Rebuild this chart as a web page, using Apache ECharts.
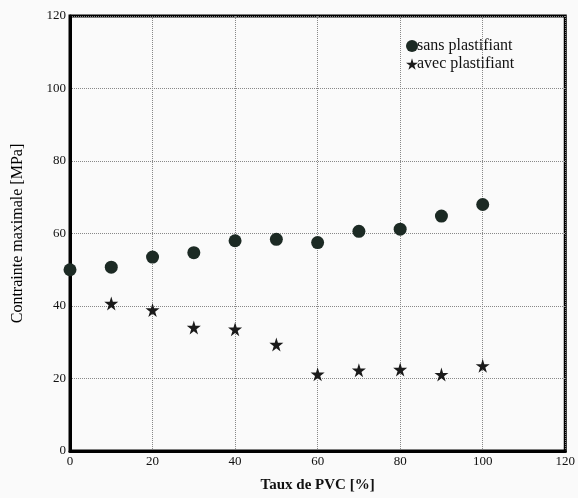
<!DOCTYPE html>
<html><head><meta charset="utf-8">
<script src="https://cdn.jsdelivr.net/npm/echarts@6/dist/echarts.min.js"></script>
<style>html,body{margin:0;padding:0;background:#fafafa}#c{width:578px;height:498px}</style>
</head><body><div id="c"></div>
<script>
const xSans = [0,10,20,30,40,50,60,70,80,90,100];
const ySans = [50,50.7,53.5,54.7,58,58.4,57.5,60.6,61.2,64.8,68];
const xAvec = [10,20,30,40,50,60,70,80,90,100];
const yAvec = [40.7,38.9,34.1,33.6,29.4,21.2,22.3,22.5,21.1,23.5];
const xTicks = [0,20,40,60,80,100,120];
const yTicks = [0,20,40,60,80,100,120];
const names = ['sans plastifiant','avec plastifiant'];

const star = 'path://M50,0 L61,35 L98,35 L68,57 L79,91 L50,70 L21,91 L32,57 L2,35 L39,35 Z';
const font = '"Liberation Serif","DejaVu Serif",serif';
const chart = echarts.init(document.getElementById('c'));
chart.setOption({
  backgroundColor:'#fafafa',
  animation:false,
  grid:{left:70,right:12,top:16,bottom:45,show:true,borderColor:'#000',borderWidth:3,backgroundColor:'transparent'},
  legend:{
    orient:'vertical',left:401,top:33,itemGap:2,itemWidth:12,itemHeight:12,
    textStyle:{fontFamily:font,fontSize:16,color:'#111',padding:[0,0,0,-6]},
    data:[{name:names[0],icon:'circle'},{name:names[1],icon:star}]
  },
  xAxis:{
    type:'value',min:0,max:120,interval:20,
    name:'Taux de PVC [%]',nameLocation:'middle',nameGap:27,
    nameTextStyle:{fontFamily:font,fontSize:15,color:'#111',fontWeight:'bold'},
    axisLine:{show:true,lineStyle:{color:'#000',width:3}},
    axisTick:{show:false},
    axisLabel:{fontFamily:font,fontSize:13,color:'#111',margin:4,
      formatter:v=>xTicks.includes(v)?String(v):''},
    splitLine:{show:true,lineStyle:{type:'dotted',color:'#888',width:1}}
  },
  yAxis:{
    type:'value',min:0,max:120,interval:20,
    name:'Contrainte maximale [MPa]',nameLocation:'middle',nameGap:44,
    nameTextStyle:{fontFamily:font,fontSize:16,color:'#000'},
    axisLine:{show:true,lineStyle:{color:'#000',width:3}},
    axisTick:{show:false},
    axisLabel:{fontFamily:font,fontSize:13,color:'#111',margin:4,
      formatter:v=>yTicks.includes(v)?String(v):''},
    splitLine:{show:true,lineStyle:{type:'dotted',color:'#888',width:1}}
  },
  series:[
    {name:names[0],type:'scatter',symbol:'circle',symbolSize:13,
     itemStyle:{color:'#1c2a24',opacity:1},
     data:xSans.map((x,i)=>[x,ySans[i]])},
    {name:names[1],type:'scatter',symbol:star,symbolSize:14,
     itemStyle:{color:'#1a1a1a',opacity:1},
     data:xAvec.map((x,i)=>[x,yAvec[i]])}
  ]
});
</script></body></html>
